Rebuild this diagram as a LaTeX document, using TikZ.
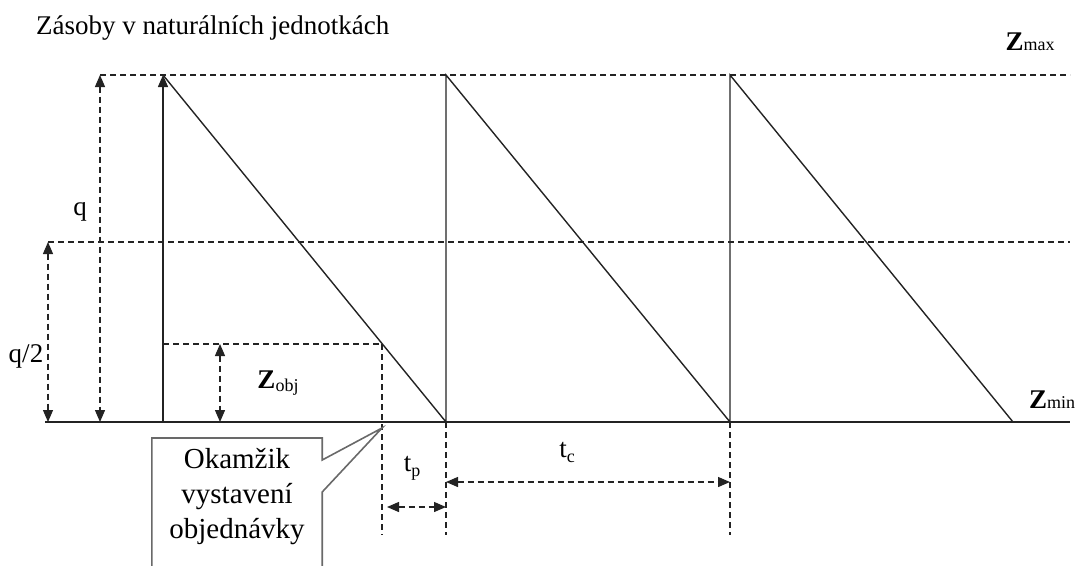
\documentclass[tikz,border=0pt]{standalone}
\usepackage{fontspec}
\setmainfont{Liberation Serif}
\usetikzlibrary{arrows.meta,calc,positioning}
\definecolor{lineGray}{RGB}{35,35,35}
\definecolor{boxGray}{RGB}{105,105,105}

\begin{document}
\begin{tikzpicture}[x=1pt, y=-1pt, >={Triangle[length=12pt,width=10pt]},
    solidline/.style={draw=lineGray, line width=1.4pt},
    dashline/.style={draw=lineGray, line width=1.3pt, dash pattern=on 6pt off 4pt},
    boxline/.style={draw=boxGray, line width=1.6pt},
    lbl/.style={inner sep=0pt, font=\fontsize{27}{31}\selectfont}]
    \useasboundingbox (0,0) rectangle (1075,565);
    \clip (0,0) rectangle (1075,565);

    \coordinate (a0) at (163,75);
    \coordinate (b0) at (163,422);
    \coordinate (a1) at (446,75);
    \coordinate (b1) at (446,422);
    \coordinate (a2) at (730,75);
    \coordinate (b2) at (730,422);
    \coordinate (b3) at (1013,422);
    \coordinate (obj) at (382,344);
    \coordinate (axL) at (45,422);
    \coordinate (axR) at (1070,422);
    \coordinate (qT) at (100,75);
    \coordinate (qB) at (100,422);
    \coordinate (topR) at (1070,75);
    \coordinate (hT) at (48,242);
    \coordinate (hB) at (48,422);
    \coordinate (midR) at (1070,242);
    \coordinate (zoT) at (220,344);
    \coordinate (zoB) at (220,422);
    \coordinate (tip) at ($(obj)+(0,84)$);

    % texts
    \node [lbl, anchor=west] (title) at (36,28) {Zásoby v naturálních jednotkách};
    \node [lbl] (zmax) at (1030,42) {\textbf{Z}{\fontsize{18}{18}\selectfont max}};
    \node [lbl] (zmin) at (1052,400) {\textbf{Z}{\fontsize{18}{18}\selectfont min}};
    \node [lbl] (zobj) at (278,383) {\textbf{Z}\raisebox{-3pt}{\fontsize{18}{18}\selectfont obj}};
    \node [lbl] (qlbl) at (80,212) {q};
    \node [lbl] (halfq) at (26,356) {q/2};
    \node [lbl] (tplbl) at (412,468) {t\raisebox{-5pt}{\fontsize{18}{18}\selectfont p}};
    \node [lbl] (tclbl) at (567,452) {t\raisebox{-5pt}{\fontsize{18}{18}\selectfont c}};
    \node [anchor=north, inner xsep=0pt, inner ysep=10pt, text width=170pt, align=center, font=\fontsize{29}{35}\selectfont] (callout) at (237,438) {Okamžik\\vystavení\\objednávky};

    % levels
    \draw [dashline] (qT) -- (topR);
    \draw [dashline] (hT) -- (midR);
    \draw [dashline] (obj -| b0) -- (obj);
    \draw [dashline] (obj) -- ($(obj)+(0,191)$);
    \draw [dashline] (b1) -- ($(b1)+(0,113)$);
    \draw [dashline] (b2) -- ($(b2)+(0,113)$);

    % dimensions
    \draw [dashline, <->] (qT) -- (qB);
    \draw [dashline, <->] (hT) -- (hB);
    \draw [dashline, <->] (zoT) -- (zoB);
    \draw [dashline, <->] ($(obj)+(5,163)$) -- ($(b1)+(0,85)$);
    \draw [dashline, <->] ($(b1)+(0,60)$) -- ($(b2)+(0,60)$);

    % stock curve
    \draw [solidline] (axL) -- (axR);
    \draw [solidline, ->] (b0) -- (a0);
    \draw [solidline] (a0) -- (b1) -- (a1) -- (b2) -- (a2) -- (b3);

    % callout
    \draw [boxline] (callout.north west) -- (callout.north east) -- ++(0,22) -- (tip) -- ($(callout.north east)+(0,54)$) -- ($(callout.north east)+(0,170)$) -- ($(callout.north west)+(0,170)$) -- cycle;
\end{tikzpicture}
\end{document}
